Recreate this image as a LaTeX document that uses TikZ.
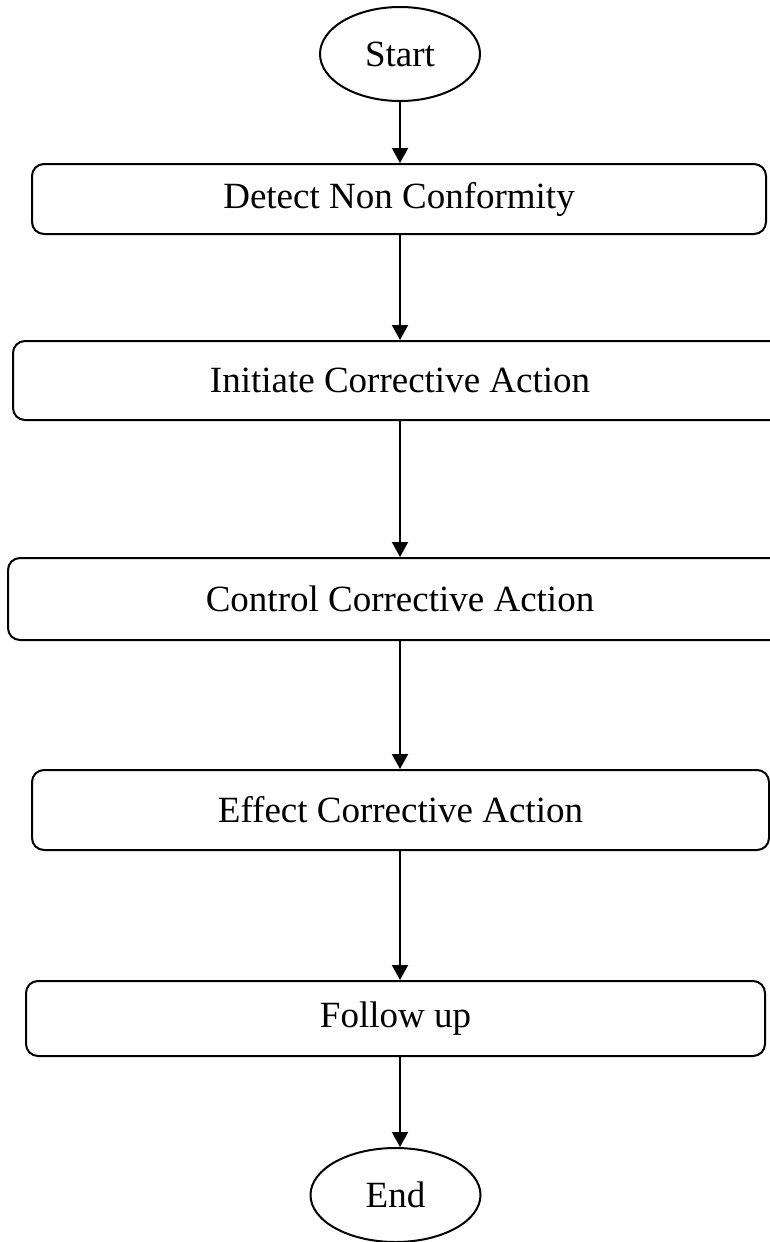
\documentclass[tikz,border=0pt]{standalone}
\usepackage{fontspec}
\setmainfont{Liberation Serif}
\usetikzlibrary{arrows.meta, shapes.geometric}

\begin{document}
\begin{tikzpicture}[x=0.5pt, y=-0.5pt, >={Triangle[length=7.5pt,width=8pt]},
	line width=1pt, line join=round, font=\fontsize{18.5}{22}\selectfont,
	terminal/.style={draw, ellipse, inner sep=0pt, minimum width=80pt, minimum height=47pt},
	process/.style={draw, rectangle, rounded corners=6pt, inner sep=0pt}]

\useasboundingbox (0,0) rectangle (770,1242);
\clip (0,0) rectangle (770,1242);

%========================
% terminals
%========================
\node[terminal] (start) at (400,54) {Start};
\node[terminal, minimum width=85pt] (end) at (395.5,1195) {End};

%========================
% process steps
%========================
\node[process, minimum width=367pt, minimum height=35pt] (detect) at (399,199) {Detect Non Conformity};
\node[process, minimum width=387pt, minimum height=39.5pt] (initiate) at (400,380.5) {Initiate Corrective Action};
\node[process, minimum width=392pt, minimum height=41pt] (control) at (400,599) {Control Corrective Action};
\node[process, minimum width=368.5pt, minimum height=40pt] (effect) at (400.5,810) {Effect Corrective Action};
\node[process, minimum width=369.5pt, minimum height=37.5pt] (follow) at (395.5,1018.5) {Follow up};

%========================
% flow
%========================
\draw[->] (start.south) -- (start.south |- detect.north);
\draw[->] (detect.south -| start) -- (initiate.north -| start);
\draw[->] (initiate.south -| start) -- (control.north -| start);
\draw[->] (control.south -| start) -- (effect.north -| start);
\draw[->] (effect.south -| start) -- (follow.north -| start);
\draw[->] (follow.south -| start) -- (end.north -| start);

\end{tikzpicture}
\end{document}
